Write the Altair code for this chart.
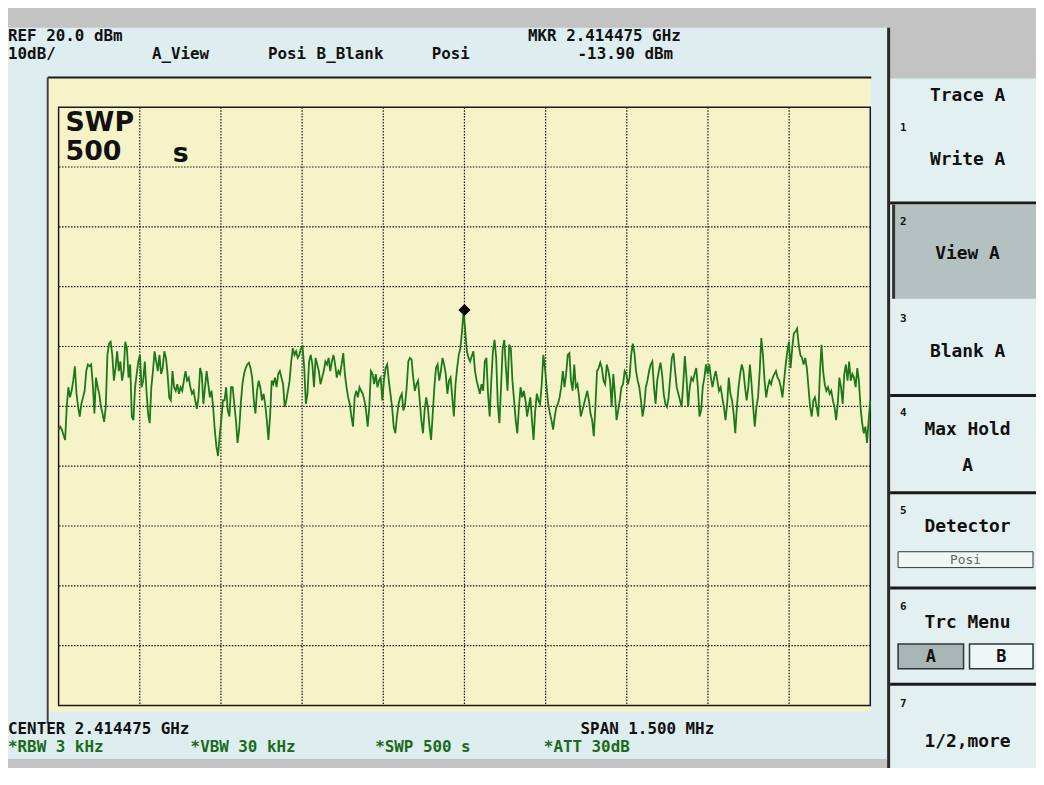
import altair as alt
import numpy as np
import pandas as pd

# ---------------- instrument settings ----------------
center_mhz = 2414.475
span_mhz = 1.5
ref_dbm = 20.0
db_per_div = 10.0
marker_dbm = -13.90

# ---------------- trace A (dBm) ----------------
trace_a = [
    -33.9, -33.4, -33.9, -34.8, -35.6, -30.1, -26.8, -28.5, -27.4, -25.7,
    -23.3, -27.9, -30.1, -31.7, -29.6, -28.5, -27.4, -24.1, -23.0, -23.3,
    -23.0, -26.3, -31.2, -25.2, -26.8, -27.9, -30.1, -31.2, -32.6, -30.1,
    -21.4, -19.5, -19.2, -21.4, -25.7, -23.6, -20.8, -24.1, -22.5, -25.7,
    -24.1, -19.2, -20.3, -25.2, -23.0, -31.7, -32.3, -26.8, -24.6, -22.5,
    -21.4, -26.8, -25.7, -22.5, -27.4, -31.2, -32.8, -26.8, -24.1, -20.8,
    -22.5, -24.1, -21.4, -24.6, -23.6, -20.8, -21.9, -24.6, -28.5, -29.0,
    -24.1, -26.8, -27.4, -26.3, -27.9, -26.8, -27.4, -25.7, -24.1, -25.7,
    -25.2, -26.8, -27.9, -27.4, -29.0, -30.4, -28.5, -23.6, -24.6, -29.6,
    -26.8, -24.1, -26.3, -28.5, -27.4, -30.1, -33.9, -36.7, -38.3, -35.0,
    # ---
    -32.3, -29.0, -29.0, -26.8, -30.7, -31.7, -26.8, -26.8, -29.6, -32.3,
    -36.1, -33.9, -29.6, -26.3, -24.6, -23.6, -23.0, -22.7, -23.6, -25.2,
    -29.0, -31.2, -27.4, -25.7, -26.8, -29.0, -27.9, -29.6, -32.3, -35.6,
    -31.7, -25.7, -26.3, -25.2, -26.8, -24.6, -24.1, -25.2, -26.3, -30.1,
    -29.0, -27.4, -25.7, -22.5, -20.3, -21.4, -20.8, -21.9, -21.4, -20.3,
    -20.0, -23.6, -29.6, -27.9, -22.5, -21.4, -23.0, -26.8, -21.9, -23.0,
    -24.1, -26.3, -25.2, -24.1, -22.5, -23.0, -21.9, -24.1, -22.5, -21.4,
    -23.0, -25.2, -24.1, -24.6, -23.0, -21.1, -24.6, -26.8, -28.5, -29.6,
    -31.7, -33.4, -28.5, -27.4, -28.5, -26.8, -27.4, -27.9, -29.0, -30.7,
    -33.4, -30.1, -24.1, -24.6, -26.3, -24.6, -26.8, -25.7, -25.2, -29.0,
    # ---
    -25.7, -23.6, -23.0, -25.7, -27.9, -30.1, -33.4, -34.5, -31.7, -29.6,
    -28.5, -27.9, -30.7, -29.6, -26.8, -22.5, -21.9, -22.2, -25.2, -27.4,
    -26.3, -25.7, -29.0, -32.3, -34.5, -30.7, -28.5, -30.1, -33.4, -35.6,
    -31.2, -26.8, -23.6, -23.0, -25.7, -24.1, -21.9, -23.0, -24.6, -27.9,
    -25.7, -25.2, -28.5, -31.7, -26.3, -23.6, -21.4, -20.3, -17.5, -13.9,
    -17.5, -20.8, -21.9, -22.5, -21.6, -20.8, -24.1, -25.7, -26.8, -27.9,
    -26.3, -27.4, -22.5, -21.9, -27.9, -31.7, -25.7, -20.8, -18.9, -21.9,
    -29.6, -32.8, -26.8, -20.3, -18.9, -23.6, -27.4, -19.7, -20.3, -25.7,
    -29.0, -32.3, -34.5, -30.1, -26.8, -28.5, -27.4, -29.0, -31.7, -30.1,
    -28.5, -32.3, -35.6, -30.7, -27.9, -29.0, -29.6, -26.3, -21.4, -23.6,
    # ---
    -26.8, -29.6, -31.2, -32.3, -33.9, -31.7, -30.1, -29.6, -28.5, -26.8,
    -24.1, -26.8, -24.6, -21.4, -21.1, -25.7, -27.4, -23.0, -26.8, -26.3,
    -28.5, -31.7, -30.7, -29.6, -28.5, -27.4, -29.0, -31.2, -32.3, -35.0,
    -30.1, -24.1, -23.6, -22.7, -23.6, -25.7, -26.3, -23.0, -24.1, -25.7,
    -30.1, -24.6, -27.9, -32.3, -30.7, -29.0, -26.8, -26.3, -24.1, -24.6,
    -26.3, -25.2, -21.4, -19.5, -21.1, -24.1, -25.7, -26.8, -29.0, -31.7,
    -30.1, -26.8, -25.7, -24.1, -23.0, -22.5, -26.8, -29.6, -25.7, -24.1,
    -22.7, -24.6, -27.9, -29.6, -30.1, -28.5, -25.2, -21.9, -21.1, -24.1,
    -26.8, -27.9, -29.0, -30.1, -26.3, -21.6, -25.2, -30.1, -26.8, -25.2,
    -25.7, -24.6, -23.6, -26.8, -31.7, -30.7, -26.8, -25.2, -23.0, -24.6,
    # ---
    -23.0, -25.2, -26.8, -25.2, -24.1, -25.7, -27.4, -26.8, -28.5, -30.1,
    -32.3, -29.6, -25.2, -27.9, -29.0, -31.2, -34.5, -30.1, -26.8, -24.6,
    -23.0, -24.1, -26.8, -29.0, -26.8, -23.0, -26.3, -30.1, -33.4, -30.1,
    -28.5, -24.1, -18.6, -21.4, -25.7, -28.5, -26.8, -25.7, -26.3, -25.2,
    -24.6, -24.1, -25.2, -25.7, -26.8, -28.5, -25.7, -23.0, -20.8, -19.2,
    -23.6, -20.3, -17.8, -17.5, -17.0, -19.7, -21.4, -21.9, -23.0, -21.9,
    -23.6, -26.8, -30.1, -31.7, -29.0, -28.5, -30.1, -31.7, -24.6, -19.7,
    -24.1, -26.3, -27.4, -26.8, -27.9, -27.4, -29.0, -30.1, -32.3, -29.6,
    -25.2, -26.8, -29.6, -24.6, -23.0, -25.7, -22.5, -25.7, -24.6, -25.2,
    -26.8, -23.6, -25.7, -30.1, -32.8, -34.5, -33.4, -36.1, -32.3, -29.0,
]

# ---------------- screen texts ----------------
header_1 = [("REF 20.0 dBm", 8), ("MKR 2.414475 GHz", 532)]
header_2 = [("10dB/", 8), ("A_View", 153), ("Posi", 270), ("B_Blank", 319),
            ("Posi", 435), ("-13.90 dBm", 582)]
footer_1 = [("CENTER 2.414475 GHz", 8), ("SPAN 1.500 MHz", 585)]
footer_2 = [("*RBW 3 kHz", 8), ("*VBW 30 kHz", 192), ("*SWP 500 s", 378),
            ("*ATT 30dB", 548)]
menu_labels = [("Trace A", 94), ("Write A", 158), ("View A", 253), ("Blank A", 352),
               ("Max Hold", 430), ("A", 467), ("Detector", 528), ("Trc Menu", 625),
               ("1/2,more", 745)]
menu_numbers = [("1", 126), ("2", 221), ("3", 318), ("4", 413), ("5", 512),
                ("6", 609), ("7", 706)]

# ---------------- layout ----------------
OX, OY = 59, 105          # page position of the graticule's top-left corner
PW, PH = 818, 603         # graticule size
MONO = "DejaVu Sans Mono"
GRAY = "#c3c3c3"
PANEL = "#deedef"
YELLOW = "#f6f3c8"
MENU = "#e3f0f1"
DARK = "#1a1a1a"
TRACE = "#1b781b"
GREEN_TXT = "#1b6b1b"

start = center_mhz - span_mhz / 2
stop = center_mhz + span_mhz / 2
bottom_dbm = ref_dbm - 10 * db_per_div

freq = np.linspace(start, stop, len(trace_a))
df = pd.DataFrame({"freq": freq, "level": trace_a})
vgrid = pd.DataFrame({"f": np.linspace(start, stop, 11)[1:-1]})
hgrid = pd.DataFrame({"l": [ref_dbm - i * db_per_div for i in range(1, 10)]})
frame = pd.DataFrame({"f0": [start], "f1": [stop], "l0": [bottom_dbm], "l1": [ref_dbm]})
mk = pd.DataFrame({"freq": [center_mhz], "level": [marker_dbm]})
one = pd.DataFrame({"k": [0]})

xs = alt.Scale(domain=[start, stop], nice=False, zero=False)
ys = alt.Scale(domain=[bottom_dbm, ref_dbm], nice=False, zero=False)


def box(x1, y1, x2, y2, fill, stroke=None, sw=0.0):
    kw = {"fill": fill}
    if stroke is not None:
        kw.update(stroke=stroke, strokeWidth=sw)
    return alt.Chart(one).mark_rect(**kw).encode(
        x=alt.value(x1 - OX), x2=alt.value(x2 - OX),
        y=alt.value(y1 - OY), y2=alt.value(y2 - OY))


def txt(s, x, y, size=18, color="#111111", align="left", weight="bold", font=MONO):
    return alt.Chart(one).mark_text(
        text=s, align=align, baseline="middle", fontSize=size, font=font,
        fontWeight=weight, color=color).encode(
        x=alt.value(x - OX), y=alt.value(y - OY))


layers = []
# panels
layers.append(box(0, 25, 894, 762, PANEL))
layers.append(box(896, 76, 1044, 785, MENU))
layers.append(box(894, 25, 897, 785, "#2a2a2a"))
layers.append(box(48, 75, 877, 714, YELLOW))
layers.append(box(48, 74, 878, 76, DARK))
layers.append(box(47, 75, 49, 726, "#444444"))
# menu
layers.append(box(897, 200, 1044, 203, DARK))
layers.append(box(899, 203, 1044, 298, "#b5c1c1"))
layers.append(box(899, 203, 902, 298, "#333333"))
for yy in [395, 493, 589, 686, 782]:
    layers.append(box(897, yy - 1, 1044, yy + 2, DARK))
layers.append(box(905, 553, 1041, 569, "#eef6f6", "#333333", 1))
layers.append(box(905, 646, 971, 671, "#a9b4b4", "#333333", 1.5))
layers.append(box(977, 646, 1041, 671, "#eef6f6", "#333333", 1.5))

# graticule
layers.append(alt.Chart(vgrid).mark_rule(color="#111111", strokeDash=[1.5, 1.5], strokeWidth=1.2).encode(
    x=alt.X("f:Q", scale=xs, axis=None)))
layers.append(alt.Chart(hgrid).mark_rule(color="#111111", strokeDash=[1.5, 1.5], strokeWidth=1.2).encode(
    y=alt.Y("l:Q", scale=ys, axis=None)))
layers.append(alt.Chart(frame).mark_rect(fillOpacity=0, stroke=DARK, strokeWidth=1.5).encode(
    x=alt.X("f0:Q", scale=xs, axis=None), x2="f1:Q",
    y=alt.Y("l0:Q", scale=ys, axis=None), y2="l1:Q"))

# trace and marker
layers.append(alt.Chart(df).mark_line(color=TRACE, strokeWidth=1.8).encode(
    x=alt.X("freq:Q", scale=xs, axis=None),
    y=alt.Y("level:Q", scale=ys, axis=None)))
layers.append(alt.Chart(mk).mark_point(shape="diamond", filled=True, color="black",
                                       size=150, opacity=1).encode(
    x=alt.X("freq:Q", scale=xs, axis=None),
    y=alt.Y("level:Q", scale=ys, axis=None)))

# texts
for s, x in header_1:
    layers.append(txt(s, x, 33, size=16))
for s, x in header_2:
    layers.append(txt(s, x, 51, size=16))
for s, x in footer_1:
    layers.append(txt(s, x, 732, size=16))
for s, x in footer_2:
    layers.append(txt(s, x, 750, size=16, color=GREEN_TXT))
layers.append(txt("SWP", 66, 121, size=27, font="DejaVu Sans"))
layers.append(txt("500", 66, 150, size=27, font="DejaVu Sans"))
layers.append(txt("s", 174, 152, size=27, font="DejaVu Sans"))
for s, y in menu_labels:
    layers.append(txt(s, 975, y, align="center"))
for s, y in menu_numbers:
    layers.append(txt(s, 907, y, size=11))
layers.append(txt("Posi", 973, 561, size=13, color="#666666", weight="normal", align="center"))
layers.append(txt("A", 938, 659, size=17, align="center"))
layers.append(txt("B", 1009, 659, size=17, align="center"))

chart = alt.layer(*layers).properties(
    width=PW, height=PH,
    padding={"left": OX - 8, "top": OY - 8, "right": 1036 - (OX - 8) - PW,
             "bottom": 760 - (OY - 8) - PH},
    autosize=alt.AutoSizeParams(type="none"),
    background=GRAY,
).configure_view(strokeWidth=0)

chart.save("out.html", embed_options={"renderer": "svg", "actions": False})
